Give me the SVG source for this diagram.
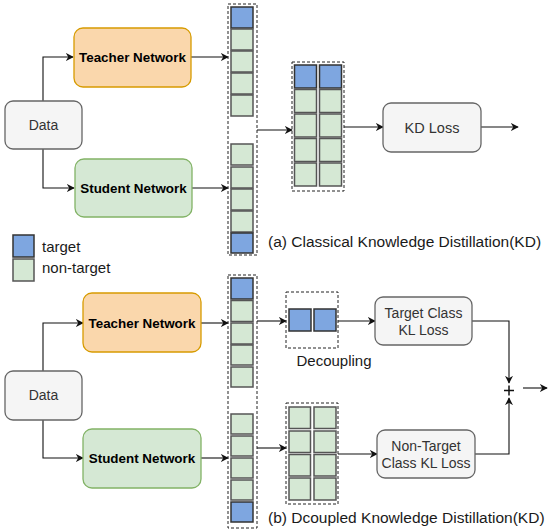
<svg xmlns="http://www.w3.org/2000/svg" width="550" height="531" viewBox="0 0 550 531">
<style>
text{font-family:"Liberation Sans",Arial,sans-serif;}
.lbl{font-size:14px;fill:#333;text-anchor:middle;}
.net{font-size:13.4px;font-weight:bold;fill:#000;text-anchor:middle;}
.cap{font-size:15px;fill:#1a1a1a;}
.big{font-size:15.5px;}
.gray{fill:#f5f5f5;stroke:#666;stroke-width:1.3;}
.tea{fill:#fad7ac;stroke:#d79b00;stroke-width:1.3;}
.stu{fill:#d5e8d4;stroke:#82b366;stroke-width:1.3;}
.b{fill:#7ea6e0;stroke:#333;stroke-width:1.5;}
.g{fill:#d5e8d4;stroke:#555;stroke-width:1.5;}
.dash{fill:none;stroke:#222;stroke-width:1;stroke-dasharray:3 2;}
.c{fill:none;stroke:#111;stroke-width:1.1;}
</style>
<defs>
<marker id="ar" viewBox="0 0 10 10" refX="9" refY="5" markerWidth="8" markerHeight="8" markerUnits="userSpaceOnUse" orient="auto">
<path d="M0,0 L10,5 L0,10 L3,5 Z" fill="#111"/>
</marker>
</defs>

<g id="connectors">
<path class="c" d="M43,101 V57 H73" marker-end="url(#ar)"/>
<path class="c" d="M43,149 V188 H74" marker-end="url(#ar)"/>
<path class="c" d="M191,57 H228" marker-end="url(#ar)"/>
<path class="c" d="M192,188 H228" marker-end="url(#ar)"/>
<path class="c" d="M257,130 H292" marker-end="url(#ar)"/>
<path class="c" d="M344,127 H383" marker-end="url(#ar)"/>
<path class="c" d="M481,127 H518" marker-end="url(#ar)"/>

<path class="c" d="M43,371 V323 H83" marker-end="url(#ar)"/>
<path class="c" d="M43,420 V458 H83" marker-end="url(#ar)"/>
<path class="c" d="M201,323 H228" marker-end="url(#ar)"/>
<path class="c" d="M201,458 H228" marker-end="url(#ar)"/>
<path class="c" d="M257,321 H286" marker-end="url(#ar)"/>
<path class="c" d="M257,448 H286" marker-end="url(#ar)"/>
<path class="c" d="M338,321 H375" marker-end="url(#ar)"/>
<path class="c" d="M338,454 H377" marker-end="url(#ar)"/>
<path class="c" d="M472,321 H509 V383" marker-end="url(#ar)"/>
<path class="c" d="M475,454 H509 V398" marker-end="url(#ar)"/>
<path class="c" d="M523,388 H547" marker-end="url(#ar)"/>
</g>

<g id="data-a"><rect class="gray" x="5" y="101" width="77" height="48" rx="8"/><text class="lbl" x="43.5" y="130">Data</text></g>
<g id="teacher-a"><rect class="tea" x="74" y="28" width="117" height="59" rx="9"/><text class="net" x="132.5" y="62">Teacher Network</text></g>
<g id="student-a"><rect class="stu" x="75" y="159" width="117" height="58" rx="9"/><text class="net" x="133.5" y="193">Student Network</text></g>

<g id="logits-a">
<rect class="dash" x="228" y="4" width="29" height="251"/>
<rect class="b" x="231" y="7" width="22" height="21"/>
<rect class="g" x="231" y="29" width="22" height="21"/>
<rect class="g" x="231" y="51" width="22" height="21"/>
<rect class="g" x="231" y="73" width="22" height="21"/>
<rect class="g" x="231" y="95" width="22" height="21"/>
<rect class="g" x="231" y="144" width="22" height="21"/>
<rect class="g" x="231" y="167" width="22" height="21"/>
<rect class="g" x="231" y="189" width="22" height="21"/>
<rect class="g" x="231" y="211" width="22" height="21"/>
<rect class="b" x="231" y="233" width="22" height="20"/>
</g>

<g id="pair-a">
<rect class="dash" x="292" y="62" width="52" height="129"/>
<rect class="b" x="294.5" y="65" width="22" height="23"/><rect class="b" x="319.5" y="65" width="22" height="23"/>
<rect class="g" x="294.5" y="89.5" width="22" height="23"/><rect class="g" x="319.5" y="89.5" width="22" height="23"/>
<rect class="g" x="294.5" y="114" width="22" height="23"/><rect class="g" x="319.5" y="114" width="22" height="23"/>
<rect class="g" x="294.5" y="138.5" width="22" height="23"/><rect class="g" x="319.5" y="138.5" width="22" height="23"/>
<rect class="g" x="294.5" y="163" width="22" height="23"/><rect class="g" x="319.5" y="163" width="22" height="23"/>
</g>

<g id="kdloss"><rect class="gray" x="383" y="103" width="98" height="49" rx="8"/><text class="lbl" x="432" y="133" style="font-size:14.5px">KD Loss</text></g>

<g id="legend">
<rect class="b" x="13" y="235" width="21" height="22"/><text class="cap" x="42" y="252">target</text>
<rect class="g" x="13" y="259" width="21" height="22"/><text class="cap" x="42" y="273">non-target</text>
</g>
<text class="cap big" x="268" y="247">(a) Classical Knowledge Distillation(KD)</text>

<g id="data-b"><rect class="gray" x="5" y="371" width="77" height="49" rx="8"/><text class="lbl" x="43.5" y="400">Data</text></g>
<g id="teacher-b"><rect class="tea" x="83" y="293" width="118" height="59" rx="9"/><text class="net" x="142" y="328">Teacher Network</text></g>
<g id="student-b"><rect class="stu" x="83" y="429" width="118" height="59" rx="9"/><text class="net" x="142" y="463">Student Network</text></g>

<g id="logits-b">
<rect class="dash" x="228" y="275" width="29" height="253"/>
<rect class="b" x="231" y="278" width="22" height="21"/>
<rect class="g" x="231" y="300.5" width="22" height="21"/>
<rect class="g" x="231" y="323" width="22" height="21"/>
<rect class="g" x="231" y="345" width="22" height="20"/>
<rect class="g" x="231" y="367" width="22" height="20"/>
<rect class="g" x="231" y="414" width="22" height="20"/>
<rect class="g" x="231" y="436" width="22" height="20"/>
<rect class="g" x="231" y="458" width="22" height="20"/>
<rect class="g" x="231" y="480" width="22" height="20"/>
<rect class="b" x="231" y="502" width="22" height="20"/>
</g>

<g id="decoupling">
<rect class="dash" x="286" y="292" width="52" height="56"/>
<rect class="b" x="289" y="309" width="22" height="22"/><rect class="b" x="314" y="309" width="22" height="22"/>
<text class="cap" x="334" y="366" text-anchor="middle">Decoupling</text>
</g>

<g id="nontarget-logits">
<rect class="dash" x="286" y="403" width="52" height="101"/>
<rect class="g" x="289" y="407" width="21.5" height="21.5"/><rect class="g" x="314" y="407" width="22" height="21.5"/>
<rect class="g" x="289" y="431" width="21.5" height="21.5"/><rect class="g" x="314" y="431" width="22" height="21.5"/>
<rect class="g" x="289" y="454.5" width="21.5" height="21.5"/><rect class="g" x="314" y="454.5" width="22" height="21.5"/>
<rect class="g" x="289" y="478" width="21.5" height="22"/><rect class="g" x="314" y="478" width="22" height="22"/>
</g>

<g id="tckl"><rect class="gray" x="375" y="297" width="97" height="48" rx="8"/><text class="lbl" x="423.5" y="318">Target Class</text><text class="lbl" x="423.5" y="335">KL Loss</text></g>
<g id="nckl"><rect class="gray" x="377" y="430" width="98" height="48" rx="8"/><text class="lbl" x="426" y="451">Non-Target</text><text class="lbl" x="426" y="468">Class KL Loss</text></g>

<g id="plus"><path d="M504,390.5 H514 M509,385.5 V395.5" stroke="#111" stroke-width="1.5"/></g>

<text class="cap big" x="268" y="523">(b) Dcoupled Knowledge Distillation(KD)</text>
</svg>
